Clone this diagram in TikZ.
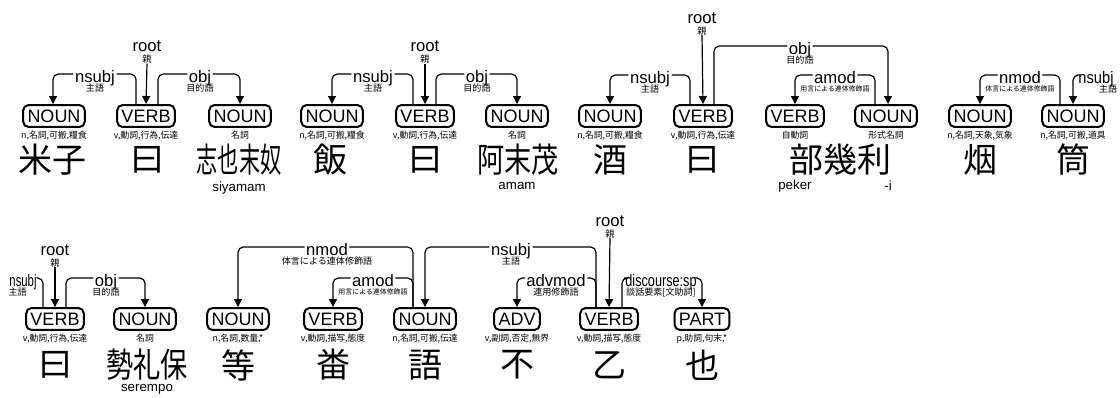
\documentclass[tikz,border=0pt]{standalone}
\usepackage{fontspec}
\setmainfont{Liberation Sans}
\newfontfamily\jpfont{Noto Sans CJK JP}
\usetikzlibrary{arrows.meta, positioning, calc}

\begin{document}
\begin{tikzpicture}[x=0.75pt, y=-0.75pt,
   upos/.style={draw, line width=1.5pt, rounded corners=4pt, inner xsep=3.2pt,
      minimum height=16pt, text height=9.8pt, text depth=0pt,
      font=\fontsize{13.5}{14}\selectfont},
   feat/.style={font=\jpfont\fontsize{6.6}{7}\selectfont, inner sep=0pt},
   word/.style={font=\jpfont\fontsize{25.5}{26}\selectfont, inner sep=0pt},
   rom/.style={font=\fontsize{10}{11}\selectfont, inner sep=0pt},
   rel/.style={font=\fontsize{12.5}{13}\selectfont, inner xsep=1pt, inner ysep=0pt,
      text height=12.4pt, text depth=0pt},
   gloss/.style={font=\jpfont\fontsize{6.8}{7}\selectfont, inner sep=0pt},
   sgloss/.style={font=\jpfont\fontsize{5.2}{6}\selectfont, inner sep=0pt},
   dep/.style={line width=0.9pt, rounded corners=4pt},
   arr/.style={dep, -{Stealth[length=6pt, width=6pt, inset=0pt]}}]
   \useasboundingbox (0,0) rectangle (1120,397);

   % ---------- sentence 1: 米子 曰 志也末奴
   \node[upos] (n11) at (54,116) {NOUN};
   \node[upos] (v12) at (146,116) {VERB};
   \node[upos] (n13) at (240,116) {NOUN};
   \node[feat, below=2pt of n11] {n,名詞,可搬,糧食};
   \node[feat, below=2pt of v12] {v,動詞,行為,伝達};
   \node[feat, below=2pt of n13] {名詞};
   \node[word] (w11) at (52,160) {米子};
   \node[word] (w12) at (147,160) {曰};
   \node[word] (w13) at (239,160) {\scalebox{0.62}[1]{志也末奴}};
   \node[rom] at (239,188) {siyamam};
   % root
   \node[rel] (r1) at (147,43.5) {root};
   \node[gloss, below=2pt of r1] (g1) {親};
   \draw[arr] (g1.south) -- (v12.north);
   % nsubj, obj
   \node[rel] (l11) at (95,74) {nsubj};
   \node[gloss, below=1pt of l11] {主語};
   \draw[dep] ($(v12.north)+(-10,0)$) |- (l11.east);
   \draw[arr] (l11.west) -| ($(n11.north)+(-1,0)$);
   \node[rel] (l13) at (200,74) {obj};
   \node[gloss, below=1pt of l13] {目的語};
   \draw[dep] ($(v12.north)+(12,0)$) |- (l13.west);
   \draw[arr] (l13.east) -| (n13.north);

   % ---------- sentence 2: 飯 曰 阿末茂
   \node[upos] (n21) at (332,116) {NOUN};
   \node[upos] (v22) at (425,116) {VERB};
   \node[upos] (n23) at (517,116) {NOUN};
   \node[feat, below=2pt of n21] {n,名詞,可搬,糧食};
   \node[feat, below=2pt of v22] {v,動詞,行為,伝達};
   \node[feat, below=2pt of n23] {名詞};
   \node[word] (w21) at (330,160) {飯};
   \node[word] (w22) at (425,160) {曰};
   \node[word] (w23) at (518,160) {\scalebox{0.8}[1]{阿末茂}};
   \node[rom] at (517,186) {amam};
   % root
   \node[rel] (r2) at (425,43.5) {root};
   \node[gloss, below=2pt of r2] (g2) {親};
   \draw[arr] (g2.south) -- (v22.north);
   % nsubj, obj
   \node[rel] (l21) at (373,74) {nsubj};
   \node[gloss, below=1pt of l21] {主語};
   \draw[dep] ($(v22.north)+(-12,0)$) |- (l21.east);
   \draw[arr] (l21.west) -| (n21.north);
   \node[rel] (l23) at (477,74) {obj};
   \node[gloss, below=1pt of l23] {目的語};
   \draw[dep] ($(v22.north)+(11,0)$) |- (l23.west);
   \draw[arr] (l23.east) -| (n23.north);

   % ---------- sentence 3: 酒 曰 部幾利
   \node[upos] (n31) at (610,116) {NOUN};
   \node[upos] (v32) at (703,116) {VERB};
   \node[upos] (v33) at (795,116) {VERB};
   \node[upos] (n34) at (886,116) {NOUN};
   \node[feat, below=2pt of n31] {n,名詞,可搬,糧食};
   \node[feat, below=2pt of v32] {v,動詞,行為,伝達};
   \node[feat, below=2pt of v33] {自動詞};
   \node[feat, below=2pt of n34] {形式名詞};
   \node[word] (w31) at (610,160) {酒};
   \node[word] (w32) at (702,160) {曰};
   \node[word] (w33) at (840,160) {部幾利};
   \node[rom] at (795,186) {peker};
   \node[rom] at (888,186) {-i};
   % root
   \node[rel] (r3) at (702,15) {root};
   \node[gloss, below=2pt of r3] (g3) {親};
   \draw[arr] (g3.south) -- (v32.north);
   % nsubj, obj, amod
   \node[rel] (l31) at (650,75) {nsubj};
   \node[gloss, below=1pt of l31] {主語};
   \draw[dep] ($(v32.north)+(-13,0)$) |- (l31.east);
   \draw[arr] (l31.west) -| (n31.north);
   \node[rel] (l34) at (800,46) {obj};
   \node[gloss, below=1pt of l34] {目的語};
   \draw[dep] ($(v32.north)+(11,0)$) |- (l34.west);
   \draw[arr] (l34.east) -| ($(n34.north)+(2,0)$);
   \node[rel] (l33) at (835,75) {amod};
   \node[sgloss, below=1.5pt of l33] {用言による連体修飾語};
   \draw[dep] ($(n34.north)+(-11,0)$) |- (l33.east);
   \draw[arr] (l33.west) -| (v33.north);

   % ---------- sentence 4: 烟 筒
   \node[upos] (n41) at (980,116) {NOUN};
   \node[upos] (n42) at (1073,116) {NOUN};
   \node[feat, below=2pt of n41] {n,名詞,天象,気象};
   \node[feat, below=2pt of n42] {n,名詞,可搬,道具};
   \node[word] (w41) at (980,160) {烟};
   \node[word] (w42) at (1073,160) {筒};
   % nmod, nsubj (head in next line)
   \node[rel] (l41) at (1020,75) {nmod};
   \node[sgloss, below=1.5pt of l41] {体言による連体修飾語};
   \draw[dep] ($(n42.north)+(-13,0)$) |- (l41.east);
   \draw[arr] (l41.west) -| (n41.north);
   \node[rel] (l42) at (1096,75) {\scalebox{0.88}[1]{nsubj}};
   \node[gloss, below=1pt of l42, xshift=9pt] {主語};
   \draw[arr] (l42.west) -| (n42.north);

   % ---------- sentence 5: 曰 勢礼保
   \node[upos] (v51) at (55,319) {VERB};
   \node[upos] (n52) at (145,319) {NOUN};
   \node[feat, below=2pt of v51] {v,動詞,行為,伝達};
   \node[feat, below=2pt of n52] {名詞};
   \node[word] (w51) at (55,365) {曰};
   \node[word] (w52) at (147,365) {\scalebox{0.8}[1]{勢礼保}};
   \node[rom] at (147,389) {serempo};
   % root
   \node[rel] (r5) at (55,247) {root};
   \node[gloss, below=2pt of r5] (g5) {親};
   \draw[arr] (g5.south) -- (v51.north);
   % nsubj (dependent in previous line), obj
   \node[rel] (l50) at (23,278) {\scalebox{0.68}[1]{nsubj}};
   \node[gloss, below=1pt of l50, xshift=-4pt] {主語};
   \draw[dep] (l50.east) -| ($(v51.north)+(-12,0)$);
   \node[rel] (l52) at (106,278) {obj};
   \node[gloss, below=1pt of l52] {目的語};
   \draw[dep] ($(v51.north)+(11,0)$) |- (l52.west);
   \draw[arr] (l52.east) -| (n52.north);

   % ---------- sentence 6: 等 畨 語 不 乙 也
   \node[upos] (n61) at (238,319) {NOUN};
   \node[upos] (v62) at (333,319) {VERB};
   \node[upos] (n63) at (425,319) {NOUN};
   \node[upos] (a64) at (517,319) {ADV};
   \node[upos] (v65) at (609,319) {VERB};
   \node[upos] (p66) at (702,319) {PART};
   \node[feat, below=2pt of n61] {n,名詞,数量,*};
   \node[feat, below=2pt of v62] {v,動詞,描写,態度};
   \node[feat, below=2pt of n63] {n,名詞,可搬,伝達};
   \node[feat, below=2pt of a64] {v,副詞,否定,無界};
   \node[feat, below=2pt of v65] {v,動詞,描写,態度};
   \node[feat, below=2pt of p66] {p,助詞,句末,*};
   \node[word] (w61) at (238,365) {等};
   \node[word] (w62) at (333,365) {畨};
   \node[word] (w63) at (425,365) {語};
   \node[word] (w64) at (517,365) {不};
   \node[word] (w65) at (609,365) {乙};
   \node[word] (w66) at (702,365) {也};
   % root
   \node[rel] (r6) at (610,218) {root};
   \node[gloss, below=2pt of r6] (g6) {親};
   \draw[arr] (g6.south) -- (v65.north);
   % nmod, amod
   \node[rel] (l61) at (327,247) {nmod};
   \node[gloss, below=1pt of l61] {体言による連体修飾語};
   \draw[dep] ($(n63.north)+(-12,0)$) |- (l61.east);
   \draw[arr] (l61.west) -| (n61.north);
   \node[rel] (l62) at (373,278) {amod};
   \node[sgloss, below=1.5pt of l62] {用言による連体修飾語};
   \draw[dep] ($(n63.north)+(-12,0)$) |- (l62.east);
   \draw[arr] (l62.west) -| (v62.north);
   % nsubj, advmod, discourse:sp
   \node[rel] (l63) at (511,247) {nsubj};
   \node[gloss, below=1pt of l63] {主語};
   \draw[dep] ($(v65.north)+(-13,0)$) |- (l63.east);
   \draw[arr] (l63.west) -| (n63.north);
   \node[rel] (l64) at (556,278) {advmod};
   \node[gloss, below=1pt of l64] {連用修飾語};
   \draw[dep] ($(v65.north)+(-13,0)$) |- (l64.east);
   \draw[arr] (l64.west) -| (a64.north);
   \node[rel] (l66) at (661,278) {\scalebox{0.76}[1]{discourse:sp}};
   \node[gloss, below=1pt of l66] {談話要素[文助詞]};
   \draw[dep] ($(v65.north)+(13,0)$) |- (l66.west);
   \draw[arr] (l66.east) -| (p66.north);
\end{tikzpicture}
\end{document}
